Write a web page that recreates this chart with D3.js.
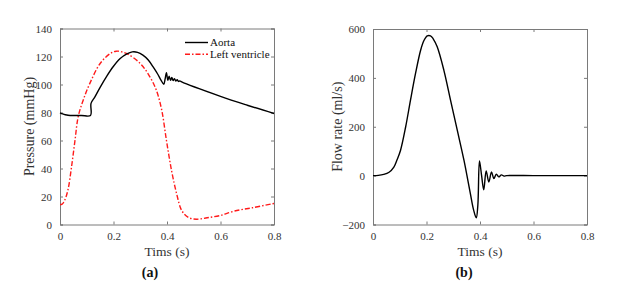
<!DOCTYPE html>
<meta charset="utf-8">
<style>
body { margin: 0; background: #fff; }
svg { display: block; }
svg text { font-family: "Liberation Serif", "Times New Roman", serif; }
.axis path, .axis line { stroke: #7a7a7a; stroke-width: 1px; }
.axis text { fill: #333; font-size: 11px; }
.title { fill: #333; font-size: 14px; }
.line { fill: none; stroke-width: 1.4px; }
</style>
<script src="https://d3js.org/d3.v7.min.js"></script>
<body>
<script>
// panel (a): pressure
var aortaT = [0, 0.01, 0.02, 0.03, 0.04, 0.08, 0.114, 0.116, 0.13, 0.15, 0.175, 0.2, 0.225, 0.25, 0.27, 0.29,
  0.31, 0.33, 0.35, 0.365, 0.378, 0.388, 0.393, 0.398, 0.403, 0.408, 0.413, 0.418, 0.423, 0.428, 0.433,
  0.438, 0.443, 0.448, 0.455, 0.6, 0.7, 0.8];
var aortaP = [79.8, 79, 78.4, 78, 77.9, 77.9, 77.9, 86.5, 91, 98, 106, 113, 118.5, 121.8, 123.3, 123,
  121, 117.5, 112, 107.5, 103, 100.2, 104, 108.5, 103, 106, 103, 105, 102.8, 104.2, 102.5,
  103.4, 102.2, 102.6, 101.8, 91.5, 85.2, 79.3];

var lvT = [0, 0.008, 0.018, 0.03, 0.043, 0.056, 0.068, 0.087, 0.112, 0.15, 0.187, 0.21, 0.25, 0.3, 0.336,
  0.36, 0.38, 0.398, 0.417, 0.436, 0.455, 0.48, 0.51, 0.55, 0.6, 0.65, 0.72, 0.8];
var lvP = [14.2, 14.5, 17.5, 25, 41, 60, 77, 89, 101, 115, 122, 123.8, 122, 115, 105.5,
  96, 82, 60, 38.5, 22, 10, 5, 3.8, 4.8, 6.5, 9.5, 12, 15];

// panel (b): flow rate
var flowT = [0, 0.02, 0.04, 0.06, 0.078, 0.09, 0.103, 0.122, 0.14, 0.159, 0.178, 0.19, 0.203, 0.215, 0.225,
  0.24, 0.265, 0.29, 0.315, 0.34, 0.364, 0.376, 0.386, 0.392, 0.398, 0.406, 0.414, 0.423, 0.433, 0.443,
  0.452, 0.461, 0.47, 0.48, 0.49, 0.5, 0.6, 0.7, 0.8];
var flowQ = [0, 1, 5, 14, 35, 65, 104, 199, 308, 418, 513, 552, 572, 572, 560,
  527, 431, 308, 186, 63, -74, -140, -173, -120, 60, 0, -58, 19, -26, 15,
  -12, 6, -5, 3, -2, 0, 0, 0, 0];

var timeTicks = [0, 0.2, 0.4, 0.6, 0.8];
var pressTicks = [0, 20, 40, 60, 80, 100, 120, 140];
var flowTicks = [-200, 0, 200, 400, 600];
var legendNames = ["Aorta", "Left ventricle"];

var svg = d3.select("body").append("svg")
    .attr("width", 637)
    .attr("height", 285);

function panel(box, yDomain, yTicks, yLabel, tag) {
  var x = d3.scaleLinear().domain([0, 0.8]).range([box.x0, box.x1]);
  var y = d3.scaleLinear().domain(yDomain).range([box.y1, box.y0]);
  var g = svg.append("g");

  g.append("g").attr("class", "axis")
    .attr("transform", "translate(0," + box.y1 + ")")
    .call(d3.axisBottom(x).tickValues(timeTicks).tickSize(-3).tickPadding(8).tickFormat(d3.format("")));
  g.append("g").attr("class", "axis")
    .attr("transform", "translate(0," + box.y0 + ")")
    .call(d3.axisTop(x).tickValues(timeTicks).tickSize(-3).tickFormat(""));
  g.append("g").attr("class", "axis")
    .attr("transform", "translate(" + box.x0 + ",0)")
    .call(d3.axisLeft(y).tickValues(yTicks).tickSize(-3).tickPadding(8));
  g.append("g").attr("class", "axis")
    .attr("transform", "translate(" + box.x1 + ",0)")
    .call(d3.axisRight(y).tickValues(yTicks).tickSize(-3).tickFormat(""));
  g.selectAll(".axis").attr("font-family", null).attr("font-size", null);

  g.append("text").attr("class", "title")
    .attr("x", (box.x0 + box.x1) / 2).attr("y", box.y1 + 31)
    .attr("text-anchor", "middle")
    .style("font-size", "13.5px")
    .text("Tims (s)");
  g.append("text").attr("class", "title")
    .attr("transform", "translate(" + box.ylab + "," + (box.y0 + box.y1) / 2 + ") rotate(-90)")
    .attr("text-anchor", "middle")
    .attr("dy", "0.35em")
    .text(yLabel);
  g.append("text")
    .attr("x", box.tagX).attr("y", 277)
    .attr("text-anchor", "middle")
    .style("font-size", "14px").style("font-weight", "bold").attr("fill", "#111")
    .text(tag);

  return {x: x, y: y, g: g};
}

var line = function(sx, sy) {
  return d3.line()
    .x(d => sx(d[0]))
    .y(d => sy(d[1]))
    .curve(d3.curveCatmullRom.alpha(0.5));
};

// (a)
var pa = panel({x0: 60, x1: 274, y0: 28.5, y1: 224.5, ylab: 29, tagX: 150}, [0, 140], pressTicks, "Pressure (mmHg)", "(a)");
var la = line(pa.x, pa.y);
pa.g.append("path").attr("class", "line")
  .attr("d", la(d3.zip(lvT, lvP)))
  .attr("stroke", "#ff1a1a")
  .attr("stroke-dasharray", "5,2,1.5,2");
pa.g.append("path").attr("class", "line")
  .attr("d", la(d3.zip(aortaT, aortaP)))
  .attr("stroke", "#000");

// legend
var leg = pa.g.append("g");
legendNames.forEach(function(name, i) {
  var yy = 42.5 + i * 11.8;
  leg.append("line")
    .attr("x1", 185).attr("x2", 208).attr("y1", yy).attr("y2", yy)
    .attr("stroke", i === 0 ? "#000" : "#ff1a1a")
    .attr("stroke-width", 1.4)
    .attr("stroke-dasharray", i === 0 ? null : "5,2,1.5,2");
  leg.append("text")
    .attr("x", 210).attr("y", yy).attr("dy", "0.35em")
    .style("font-size", "11px").attr("fill", "#111")
    .text(name);
});

// (b)
var pb = panel({x0: 373, x1: 587, y0: 29, y1: 224.5, ylab: 337, tagX: 464}, [-200, 600], flowTicks, "Flow rate (ml/s)", "(b)");
pb.g.append("path").attr("class", "line")
  .attr("d", line(pb.x, pb.y)(d3.zip(flowT, flowQ)))
  .attr("stroke", "#000");
</script>
</body>
